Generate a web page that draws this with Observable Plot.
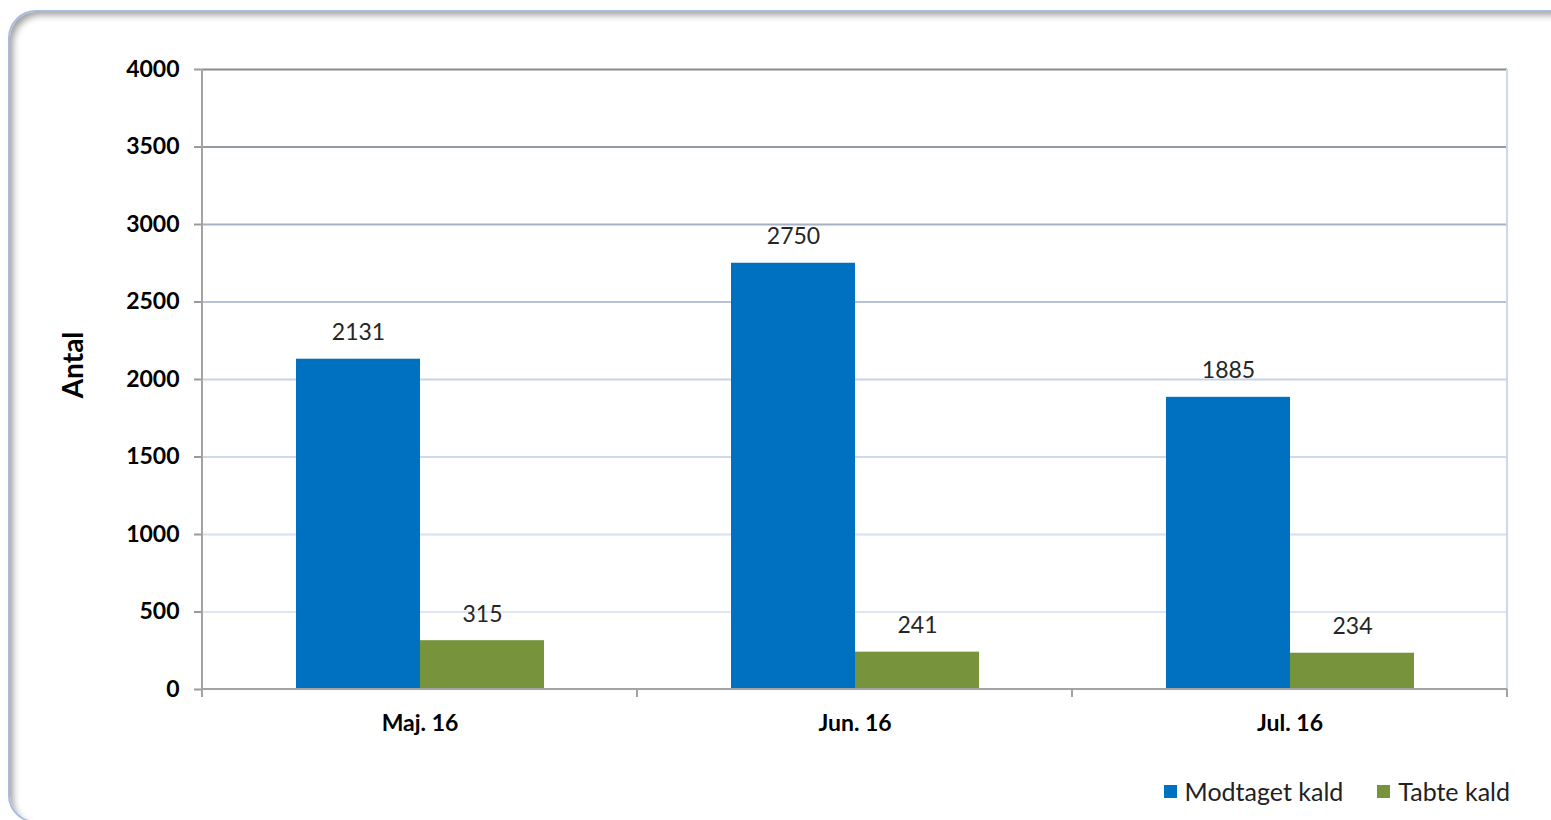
<!DOCTYPE html>
<html><head><meta charset="utf-8">
<script src="https://cdn.jsdelivr.net/npm/d3@7"></script>
<script src="https://cdn.jsdelivr.net/npm/@observablehq/plot@0.6"></script>
<style>
html,body{margin:0;padding:0;background:#fff;width:1551px;height:820px;overflow:hidden;font-family:Lato,sans-serif}
#frame{position:absolute;left:8px;top:10px;width:1570px;height:813px;border:2.5px solid #a9bbdc;border-radius:28px;box-shadow:inset 5px 5px 7px -2px rgba(0,0,0,0.38);box-sizing:border-box;background:#fff}
#chart{position:absolute;left:0;top:0}
#ylabel{position:absolute;left:72px;top:365px;transform:translate(-50%,-50%) rotate(-90deg);font-size:28px;font-weight:bold;color:#000;white-space:nowrap}
#legend{position:absolute;top:776px;right:41px;display:flex;align-items:center;font-size:25px;color:#222;white-space:nowrap}
#legend .sw{display:inline-block;width:13px;height:13px;margin-right:8px}
#legend .item{display:flex;align-items:center}
#legend .item + .item{margin-left:34px}
</style>
</head><body>
<div id="frame"></div>
<div id="chart"></div>
<div id="ylabel">Antal</div>
<div id="legend"></div>
<script>
const months = ["Maj. 16", "Jun. 16", "Jul. 16"];
const series = ["Modtaget kald", "Tabte kald"];
const modtaget = [2131, 2750, 1885];
const tabte = [315, 241, 234];
const yTicks = [0, 500, 1000, 1500, 2000, 2500, 3000, 3500, 4000];
const seriesColors = ["#0070C0", "#77933C"];

const rows = months.flatMap((m, i) => [
  {month: m, series: series[0], value: modtaget[i]},
  {month: m, series: series[1], value: tabte[i]}
]);

const gridColor = d3.scaleLinear()
  .domain([500, 2000, 3000, 3500, 4000])
  .range(["#dde6f4", "#c6d3e8", "#a6b1c3", "#939aa5", "#8a8a8a"]);

const chart = Plot.plot({
  width: 1551, height: 760,
  marginLeft: 202, marginRight: 44, marginTop: 69, marginBottom: 71,
  style: {background: "transparent", fontFamily: "Lato, sans-serif", fontSize: "21px", color: "#000"},
  fx: {domain: months, padding: 0, label: null, axis: null},
  x: {domain: series, paddingInner: 0, paddingOuter: 0.754, axis: null},
  y: {domain: [0, 4000], label: null, axis: null},
  color: {domain: series, range: seriesColors},
  marks: [
    Plot.ruleY(yTicks.filter(d => d > 0), {y: d => d, stroke: d => gridColor(d), strokeWidth: 2}),
    Plot.barY(rows, {fx: "month", x: "series", y: "value", fill: "series"}),
    Plot.text(rows, {fx: "month", x: "series", y: "value", text: d => String(d.value),
      lineAnchor: "bottom", dy: -19, fontSize: 23, fill: "#262626"}),
    Plot.axisY(yTicks, {tickSize: 8, tickPadding: 15, tickFormat: d => String(d), fontSize: 23, fontWeight: "bold", stroke: "#9a9a9a", strokeWidth: 2, label: null}),
    Plot.axisFx({anchor: "bottom", tickSize: 0, tickPadding: 25, fontSize: 23, fontWeight: "bold", label: null})
  ]
});
document.getElementById("chart").appendChild(chart);

// axis lines and category boundary ticks from the scales
const svg = d3.select(chart);
const fx = chart.scale("fx");
const y = chart.scale("y");
const y0 = y.apply(0), yTop = y.apply(4000);
const left = fx.range[0], right = fx.range[1];
const step = (right - left) / months.length;
const g = svg.append("g");
g.append("line").attr("x1", right).attr("x2", right).attr("y1", yTop).attr("y2", y0)
  .attr("stroke", "#ccd9ec").attr("stroke-width", 2);
g.append("line").attr("x1", left).attr("x2", right).attr("y1", y0).attr("y2", y0)
  .attr("stroke", "#a3a3a3").attr("stroke-width", 2);
g.append("line").attr("x1", left).attr("x2", left).attr("y1", yTop).attr("y2", y0 + 8)
  .attr("stroke", "#a3a3a3").attr("stroke-width", 2);
d3.range(1, months.length + 1).forEach(i => {
  const x = left + i * step;
  g.append("line").attr("x1", x).attr("x2", x).attr("y1", y0).attr("y2", y0 + 8)
    .attr("stroke", "#a3a3a3").attr("stroke-width", 2);
});

// legend
const legend = d3.select("#legend");
series.forEach((s, i) => {
  const it = legend.append("div").attr("class", "item");
  it.append("span").attr("class", "sw").style("background", seriesColors[i]);
  it.append("span").text(s);
});
</script>
</body></html>
